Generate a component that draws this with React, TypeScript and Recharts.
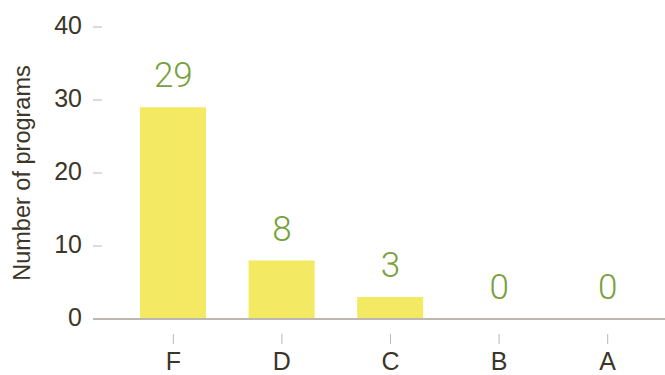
import React from 'react';
import { ComposedChart, Bar, Line, XAxis, YAxis, LabelList } from 'recharts';

const grades = ['F', 'D', 'C', 'B', 'A'];
const programs = [29, 8, 3, 0, 0];
const yTicks = [0, 10, 20, 30, 40];

const data = grades.map((g, i) => ({ grade: g, count: programs[i] }));

const FONT = '"Liberation Sans", Arial, sans-serif';
const NARROW = '"Liberation Sans Narrow", "Liberation Sans", sans-serif';
const LIGHT = 'Roboto, "Liberation Sans", sans-serif';
const TEXT = '#3b3628';
const GRAY = '#bcb7b0';

const YTick = (props: any) => {
  const { x, y, payload } = props;
  return (
    <g>
      <line x1={x + 11} x2={x + 20} y1={y} y2={y} stroke={GRAY} strokeWidth={1} />
      <text x={x} y={y} dy={7} textAnchor="end" fill={TEXT} fontSize={25} fontFamily={FONT}>
        {payload.value}
      </text>
    </g>
  );
};

const XTick = (props: any) => {
  const { x, y, payload } = props;
  return (
    <g>
      <line x1={x} x2={x} y1={y + 13} y2={y + 23} stroke={GRAY} strokeWidth={1} />
      <text x={x} y={y} dy={49} textAnchor="middle" fill={TEXT} fontSize={25} fontFamily={NARROW}>
        {payload.value}
      </text>
    </g>
  );
};

export default function App() {
  return (
    <div style={{ position: 'absolute', left: 0, top: 0, background: '#fff' }}>
      <ComposedChart
        width={665}
        height={375}
        data={data}
        margin={{ top: 27, right: 0, bottom: 0, left: 0 }}
      >
        <XAxis
          dataKey="grade"
          padding={{ left: 26, right: 3 }}
          axisLine={{ stroke: GRAY, strokeWidth: 2 }}
          tickLine={false}
          tickSize={0}
          tick={<XTick />}
          height={56}
        />
        <YAxis
          domain={[0, 40]}
          ticks={yTicks}
          width={93}
          axisLine={false}
          tickLine={false}
          tickSize={0}
          tickMargin={11}
          tick={<YTick />}
          label={{
            value: 'Number of programs',
            angle: -90,
            position: 'insideLeft',
            offset: 22,
            style: { textAnchor: 'middle', fontSize: 23.5, fill: TEXT, fontFamily: FONT },
          }}
        />
        <Bar dataKey="count" fill="#f3e963" barSize={66} isAnimationActive={false} />
        <Line
          dataKey="count"
          stroke="none"
          dot={false}
          activeDot={false}
          isAnimationActive={false}
        >
          <LabelList
            dataKey="count"
            position="top"
            offset={20}
            fill="#78a03c"
            fontSize={35}
            fontFamily={LIGHT}
            fontWeight={300}
          />
        </Line>
      </ComposedChart>
    </div>
  );
}
